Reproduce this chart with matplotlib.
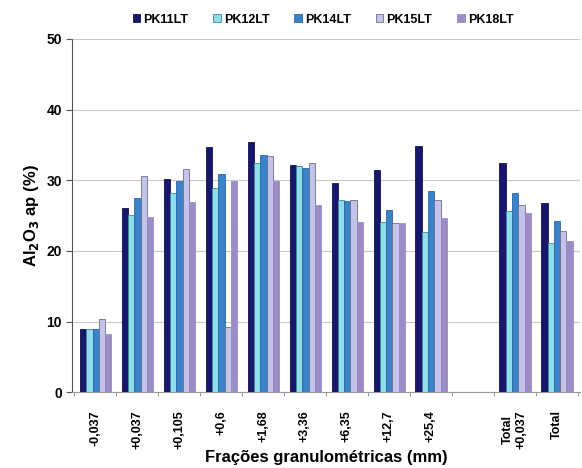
import numpy as np
import matplotlib
matplotlib.use("Agg")
from matplotlib import pyplot as plt

plt.rcParams["font.family"] = ["Liberation Sans", "DejaVu Sans"]
plt.rcParams["font.weight"] = "bold"
plt.rcParams["hatch.linewidth"] = 0.6

categories = ["-0,037", "+0,037", "+0,105", "+0,6", "+1,68", "+3,36", "+6,35",
              "+12,7", "+25,4", "", "Total\n+0,037", "Total"]
series = ["PK11LT", "PK12LT", "PK14LT", "PK15LT", "PK18LT"]

pk11 = [8.9, 26.1, 30.2, 34.7, 35.4, 32.2, 29.6, 31.4, 34.8, np.nan, 32.4, 26.8]
pk12 = [8.9, 25.1, 28.2, 28.9, 32.4, 32.0, 27.2, 24.1, 22.7, np.nan, 25.6, 21.1]
pk14 = [8.9, 27.5, 29.9, 30.9, 33.5, 31.7, 27.1, 25.8, 28.5, np.nan, 28.2, 24.2]
pk15 = [10.4, 30.6, 31.6, 9.2, 33.4, 32.4, 27.2, 23.9, 27.2, np.nan, 26.5, 22.8]
pk18 = [8.3, 24.8, 26.9, 29.9, 29.9, 26.5, 24.1, 23.9, 24.6, np.nan, 25.3, 21.4]

values = [pk11, pk12, pk14, pk15, pk18]
faces = ["#17186b", "#8fdcea", "#3b82c9", "#c4c4ea", "#9c8cc6"]
edges = ["#10104a", "#3d8a9a", "#2a66a8", "#6e6e88", "#9c8cc6"]
hatches = [None, None, None, None, "...."]

fig = plt.figure(figsize=(5.82, 4.68), dpi=100)
ax = fig.add_axes([0.124, 0.162, 0.872, 0.755])

x = np.arange(len(categories))
w = 0.15
for i, (name, v) in enumerate(zip(series, values)):
    ax.bar(x + (i - 2) * w + 0.01, v, width=w, color=faces[i], edgecolor=edges[i],
           linewidth=0.6, hatch=hatches[i], label=name, zorder=3)

ax.set_xlim(-0.55, len(categories) - 0.45)
ax.set_ylim(0, 50)
ax.set_yticks([0, 10, 20, 30, 40, 50])
ax.yaxis.grid(True, color="#c8c8c8", linewidth=0.8, zorder=0)
ax.set_xticks(x)
ax.set_xticklabels(categories, rotation=90, fontsize=9, fontweight="bold")
ax.set_xticks(np.arange(len(categories) + 1) - 0.5, minor=True)
ax.tick_params(axis="x", which="major", length=0, pad=13)
ax.tick_params(axis="x", which="minor", length=3, color="#888888")
ax.tick_params(axis="y", labelsize=10, length=4, color="#555555")
for lab in ax.get_yticklabels():
    lab.set_fontweight("bold")

for s in ["top", "right"]:
    ax.spines[s].set_visible(False)
ax.spines["left"].set_color("#555555")
ax.spines["bottom"].set_color("#999999")

ax.set_ylabel("Al$_\\mathbf{2}$O$_\\mathbf{3}$ ap (%)", fontsize=12, fontweight="bold")
ax.set_xlabel("Frações granulométricas (mm)", fontsize=12, fontweight="bold", labelpad=1)

fig.legend(loc="upper center", bbox_to_anchor=(0.555, 0.995), ncol=5, frameon=False,
           handlelength=0.6, handleheight=0.6, handletextpad=0.25,
           columnspacing=2.0, prop={"weight": "bold", "size": 9})

plt.savefig("out.png", dpi=100)
